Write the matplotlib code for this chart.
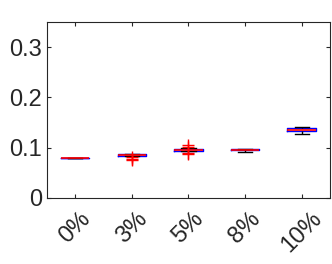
import matplotlib
matplotlib.use("Agg")
import matplotlib.pyplot as plt

labels = ['0%', '3%', '5%', '8%', '10%']
med = [0.080, 0.0855, 0.0955, 0.096, 0.135]
q1 = [0.080, 0.0845, 0.0940, 0.0945, 0.1325]
q3 = [0.080, 0.0870, 0.0975, 0.0975, 0.1400]
whislo = [0.080, 0.0840, 0.0930, 0.0920, 0.1270]
whishi = [0.080, 0.0875, 0.0985, 0.0980, 0.1410]
fliers = [[], [0.082, 0.078, 0.075], [0.106, 0.102, 0.090, 0.087], [], []]

plt.rcParams['font.family'] = ['Liberation Sans', 'DejaVu Sans']
fig = plt.figure(figsize=(3.32, 2.64), dpi=100)
ax = fig.add_axes([0.1416, 0.25, 0.852, 0.6667])

stats = []
for i in range(len(labels)):
    stats.append(dict(med=med[i], q1=q1[i], q3=q3[i], whislo=whislo[i],
                      whishi=whishi[i], fliers=fliers[i], label=labels[i]))

ax.bxp(stats, positions=range(1, len(labels) + 1), widths=0.5, capwidths=0.25,
       boxprops=dict(color='blue', linewidth=1),
       medianprops=dict(color='red', linewidth=1.2),
       whiskerprops=dict(color='black', linewidth=1, linestyle='--'),
       capprops=dict(color='black', linewidth=1),
       flierprops=dict(marker='+', markeredgecolor='red', markersize=9,
                       markeredgewidth=1, linestyle='none'))

ax.set_xlim(0.5, 5.5)
ax.set_ylim(0, 0.35)
ax.set_yticks([0, 0.1, 0.2, 0.3])
ax.set_yticklabels(['0', '0.1', '0.2', '0.3'])
ax.set_xticks(range(1, len(labels) + 1))
ax.set_xticklabels(labels, rotation=45, ha='center')
ax.tick_params(direction='in', top=True, right=True, length=3, labelsize=17,
               colors='#262626', width=0.8)
ax.tick_params(axis='x', pad=7)
for s in ax.spines.values():
    s.set_color('#262626')
    s.set_linewidth(0.8)
fig.savefig('out.png', dpi=100)
